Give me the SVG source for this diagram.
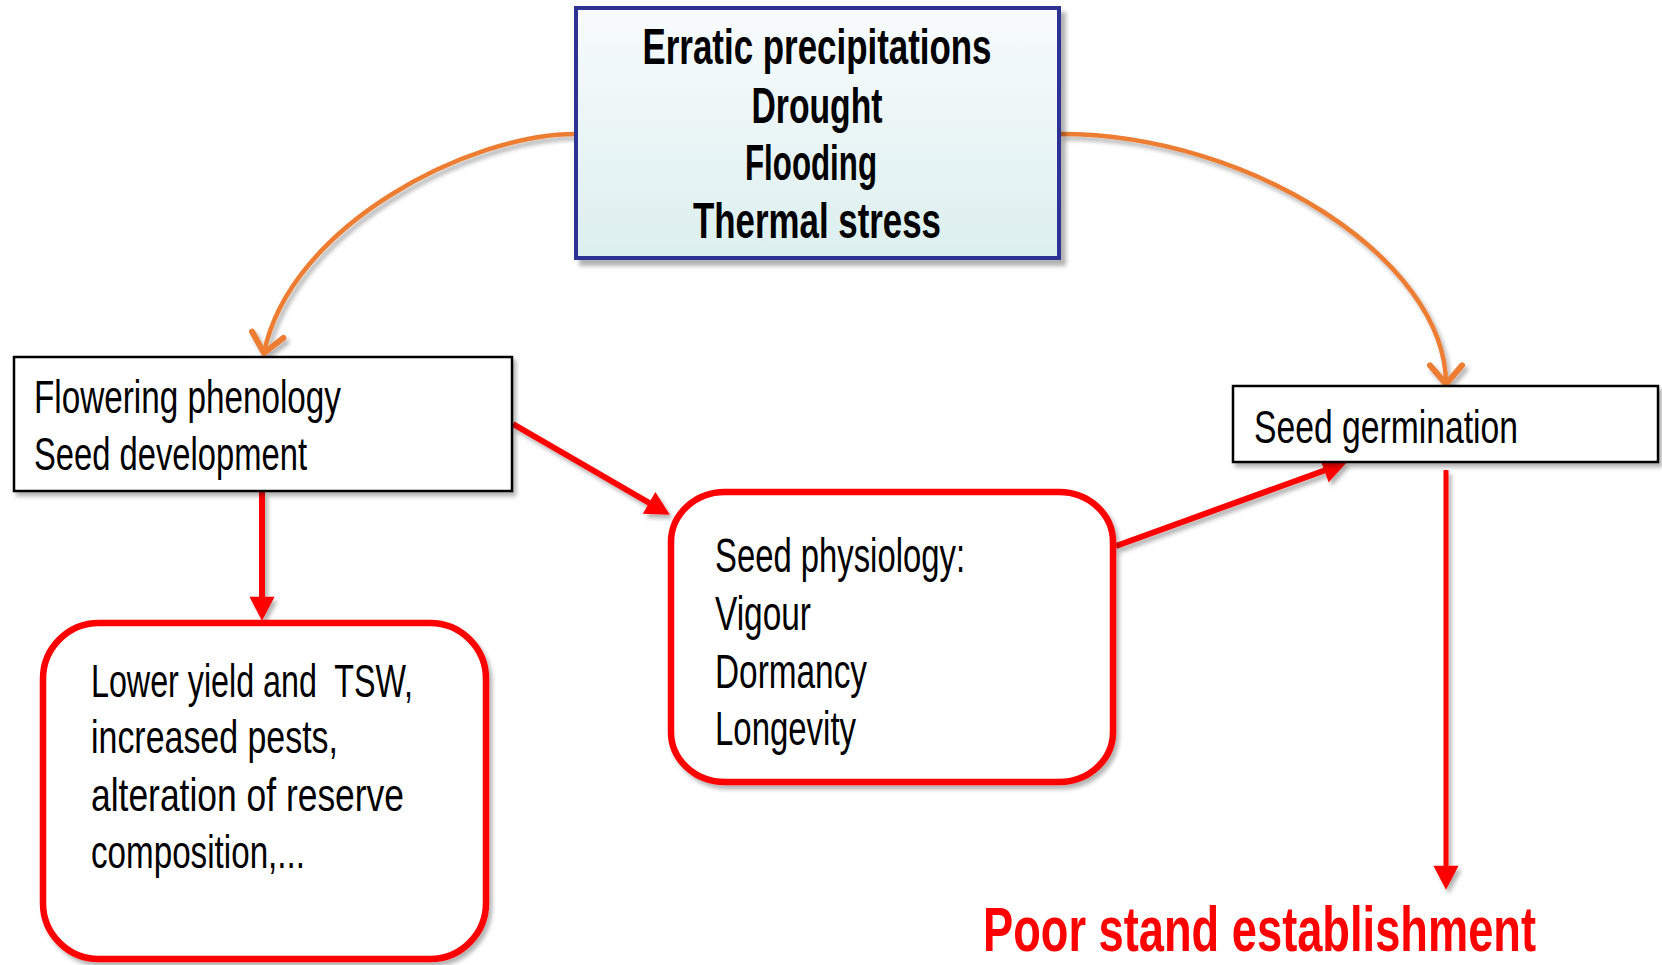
<svg xmlns="http://www.w3.org/2000/svg" width="1662" height="965" viewBox="0 0 1662 965">
  <style>
    .t { font-family: "Liberation Sans", "DejaVu Sans", sans-serif; fill: #000; white-space: pre; }
    .tb { font-family: "Liberation Sans", "DejaVu Sans", sans-serif; font-weight: bold; fill: #000; }
    .plain { fill: #fff; stroke: #000; stroke-width: 2.5; }
    .round { fill: #fff; stroke: #ff0000; stroke-width: 6.5; }
    .red { fill: none; stroke: #ff0000; stroke-width: 6; }
    .orange { fill: none; stroke: #ed7d31; stroke-width: 4.5; }
  </style>
  <defs>
    <linearGradient id="topFill" x1="0" y1="0" x2="0" y2="1">
      <stop offset="0" stop-color="#f8fbfd"/>
      <stop offset="1" stop-color="#dcefef"/>
    </linearGradient>
    <filter id="sh" x="-10%" y="-10%" width="125%" height="125%">
      <feDropShadow dx="3" dy="4" stdDeviation="2" flood-color="#000" flood-opacity="0.3"/>
    </filter>
    <filter id="shTop" x="-10%" y="-10%" width="125%" height="125%">
      <feDropShadow dx="5" dy="6" stdDeviation="2" flood-color="#000" flood-opacity="0.3"/>
    </filter>
    <marker id="redHead" markerUnits="userSpaceOnUse" markerWidth="40" markerHeight="40" viewBox="-30 -15 35 30" refX="-12" refY="0" orient="auto">
      <path d="M-21,-11 L0,0 L-21,11 Z" fill="#ff0000"/>
    </marker>
    <marker id="orangeHead" markerUnits="userSpaceOnUse" markerWidth="40" markerHeight="40" viewBox="-20 -15 25 30" refX="0" refY="0" orient="auto">
      <path d="M-14,-12 L0,0 L-14,12" fill="none" stroke="#ed7d31" stroke-width="4.5" stroke-linecap="round" stroke-linejoin="round"/>
    </marker>
  </defs>

  <g id="connectors" filter="url(#sh)">
    <path class="orange" d="M575,134 C470,134 290,225 264,353" marker-end="url(#orangeHead)"/>
    <path class="orange" d="M1061,134 C1250,134 1446,260 1446,384" marker-end="url(#orangeHead)"/>
    <line class="red" x1="262" y1="492" x2="262" y2="607" marker-end="url(#redHead)"/>
    <line class="red" x1="513" y1="424" x2="658" y2="508" marker-end="url(#redHead)"/>
    <line class="red" x1="1116" y1="546" x2="1334" y2="467" marker-end="url(#redHead)"/>
    <line class="red" style="stroke-width:5" x1="1446" y1="470" x2="1446" y2="876" marker-end="url(#redHead)"/>
  </g>

  <g id="stress">
    <rect x="576" y="8" width="483" height="250" fill="url(#topFill)" stroke="#2e3192" stroke-width="4" filter="url(#shTop)"/>
    <text class="tb" x="817" y="64" font-size="50" text-anchor="middle" textLength="349" lengthAdjust="spacingAndGlyphs">Erratic precipitations</text>
    <text class="tb" x="817" y="123" font-size="50" text-anchor="middle" textLength="131" lengthAdjust="spacingAndGlyphs">Drought</text>
    <text class="tb" x="811" y="180" font-size="50" text-anchor="middle" textLength="132" lengthAdjust="spacingAndGlyphs">Flooding</text>
    <text class="tb" x="817" y="238" font-size="50" text-anchor="middle" textLength="248" lengthAdjust="spacingAndGlyphs">Thermal stress</text>
  </g>

  <g id="flowering">
    <rect class="plain" x="14" y="357" width="498" height="134" filter="url(#sh)"/>
    <text class="t" x="34" y="413" font-size="47" textLength="307" lengthAdjust="spacingAndGlyphs">Flowering phenology</text>
    <text class="t" x="34" y="470" font-size="47" textLength="273" lengthAdjust="spacingAndGlyphs">Seed development</text>
  </g>

  <g id="germination">
    <rect class="plain" x="1233" y="386" width="425" height="76" filter="url(#sh)"/>
    <text class="t" x="1254" y="443" font-size="47" textLength="264" lengthAdjust="spacingAndGlyphs">Seed germination</text>
  </g>

  <g id="physiology">
    <rect class="round" x="671" y="492" width="442" height="290" rx="54" ry="50" filter="url(#sh)"/>
    <text class="t" x="715" y="572" font-size="48" textLength="250" lengthAdjust="spacingAndGlyphs">Seed physiology:</text>
    <text class="t" x="715" y="630" font-size="48" textLength="96" lengthAdjust="spacingAndGlyphs">Vigour</text>
    <text class="t" x="715" y="688" font-size="48" textLength="152" lengthAdjust="spacingAndGlyphs">Dormancy</text>
    <text class="t" x="715" y="745" font-size="48" textLength="141" lengthAdjust="spacingAndGlyphs">Longevity</text>
  </g>

  <g id="yield">
    <rect class="round" x="43" y="623" width="443" height="336" rx="56" ry="56" filter="url(#sh)"/>
    <text class="t" x="91" y="697" font-size="47" textLength="322" lengthAdjust="spacingAndGlyphs">Lower yield and  TSW,</text>
    <text class="t" x="91" y="753" font-size="47" textLength="247" lengthAdjust="spacingAndGlyphs">increased pests,</text>
    <text class="t" x="91" y="811" font-size="47" textLength="313" lengthAdjust="spacingAndGlyphs">alteration of reserve</text>
    <text class="t" x="91" y="868" font-size="47" textLength="214" lengthAdjust="spacingAndGlyphs">composition,...</text>
  </g>

  <g id="outcome">
    <text x="983" y="951" font-family="Liberation Sans, DejaVu Sans, sans-serif" font-weight="bold" font-size="63" fill="#ff0000" textLength="553" lengthAdjust="spacingAndGlyphs">Poor stand establishment</text>
  </g>
</svg>
